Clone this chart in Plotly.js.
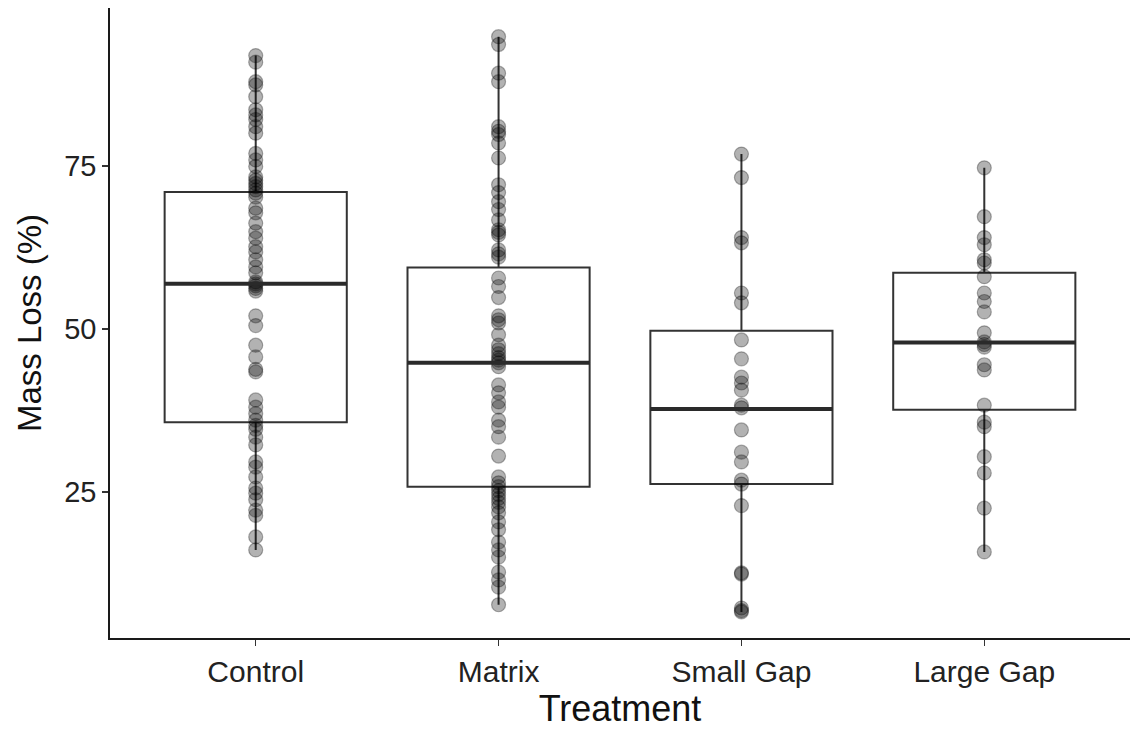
<!DOCTYPE html>
<html>
<head>
<meta charset="utf-8">
<script src="https://cdn.plot.ly/plotly-3.0.1.min.js"></script>
<style>html,body{margin:0;padding:0;background:#fff;}#chart{width:1136px;height:740px;}</style>
</head>
<body>
<div id="chart"></div>
<script>
const categories = ["Control", "Matrix", "Small Gap", "Large Gap"];

// box statistics
const q1 = [35.7, 25.8, 26.2, 37.6];
const median = [56.9, 44.8, 37.7, 47.9];
const q3 = [71.0, 59.4, 49.7, 58.6];
const lowerWhisker = [16.1, 7.7, 6.6, 15.8];
const upperWhisker = [91.9, 94.8, 76.8, 74.7];

// individual observations
const controlPts = [91.9, 90.9, 87.9, 87.4, 85.6, 83.6, 82.8, 82.1, 81.0, 80.0, 76.9, 75.9, 74.9,
  73.3, 72.8, 72.3, 71.8, 71.3, 70.8, 70.2, 68.5, 67.8, 66.2, 64.9, 63.9, 62.6, 61.8, 60.6, 59.5, 58.6,
  57.2, 56.9, 56.6, 56.2, 55.8, 52.0, 50.5, 47.5, 45.7, 43.8, 43.4,
  39.1, 38.0, 37.0, 36.0, 35.2, 34.6, 33.4, 32.2, 29.6, 28.8, 27.3, 25.6, 24.8, 23.8, 22.2, 21.4, 18.1, 16.1];
const matrixPts = [94.8, 93.6, 89.2, 87.9, 81.0, 80.3, 79.8, 78.5, 76.2, 72.1, 70.9, 69.5, 68.3, 66.7,
  65.2, 64.8, 64.4, 62.1, 61.5, 61.0, 57.8, 56.5, 54.8, 52.0, 51.4, 50.9, 49.1, 47.5, 46.8, 46.2, 45.6,
  45.2, 44.8, 44.2, 41.4, 40.2, 38.8, 38.0, 36.0, 35.0, 33.4, 30.5, 27.3, 26.4, 25.8, 25.2, 24.6, 24.0,
  23.4, 22.7, 21.8, 20.4, 19.2, 17.3, 16.1, 15.0, 12.7, 11.5, 10.4, 7.7];
const smallGapPts = [76.8, 73.2, 64.0, 63.2, 55.5, 54.0, 48.3, 45.4, 42.6, 41.7, 40.6, 38.3, 37.9,
  34.5, 31.1, 29.6, 26.8, 26.2, 22.9, 12.6, 12.4, 7.2, 6.8, 6.6];
const largeGapPts = [74.7, 67.2, 64.0, 62.9, 60.6, 60.1, 58.0, 55.5, 54.2, 52.6, 49.4, 48.0, 47.6,
  47.2, 44.5, 43.7, 38.3, 35.7, 35.0, 30.4, 27.9, 22.5, 15.8];

const yTicks = [25, 50, 75];

const groups = [controlPts, matrixPts, smallGapPts, largeGapPts];
const px = [], py = [];
groups.forEach((g, i) => g.forEach(v => { px.push(categories[i]); py.push(v); }));

const boxWidth = 0.75;
const boxTrace = {
  type: "box",
  x: categories,
  q1: q1, median: median, q3: q3,
  lowerfence: lowerWhisker, upperfence: upperWhisker,
  boxpoints: false,
  width: boxWidth,
  whiskerwidth: 0,
  fillcolor: "#ffffff",
  line: { color: "#333333", width: 2 },
  hoverinfo: "skip",
  showlegend: false
};

const pointTrace = {
  type: "scatter",
  mode: "markers",
  x: px, y: py,
  marker: { size: 14, color: "rgba(0,0,0,0.3)", line: { color: "rgba(0,0,0,0.3)", width: 1.2 } },
  hoverinfo: "y",
  showlegend: false
};

const medianShapes = median.map((m, i) => ({
  type: "line", xref: "x", yref: "y",
  x0: i - boxWidth / 2, x1: i + boxWidth / 2, y0: m, y1: m,
  line: { color: "#2a2a2a", width: 4 }, layer: "above"
}));

const font = "Liberation Sans, Arial, Helvetica, sans-serif";
const layout = {
  width: 1136, height: 740,
  margin: { l: 110, r: 6, t: 8, b: 102 },
  paper_bgcolor: "#ffffff", plot_bgcolor: "#ffffff",
  font: { family: font, color: "#222222" },
  showlegend: false,
  xaxis: {
    type: "category",
    categoryarray: categories,
    range: [-0.6, 3.6],
    showgrid: false, zeroline: false,
    showline: true, linecolor: "#1a1a1a", linewidth: 1.8,
    ticks: "outside", ticklen: 6, tickcolor: "#333333", tickwidth: 1.5,
    tickfont: { family: font, size: 30, color: "#222222" },
    title: { text: "Treatment", font: { family: font, size: 36, color: "#111111" }, standoff: 8 }
  },
  yaxis: {
    range: [2.6, 99.2],
    tickvals: yTicks,
    showgrid: false, zeroline: false,
    showline: true, linecolor: "#1a1a1a", linewidth: 1.8,
    ticks: "outside", ticklen: 6, tickcolor: "#333333", tickwidth: 1.5,
    tickfont: { family: font, size: 29, color: "#222222" },
    title: { text: "Mass Loss (%)", font: { family: font, size: 33, color: "#111111" }, standoff: 12 }
  },
  shapes: medianShapes
};

Plotly.newPlot("chart", [boxTrace, pointTrace], layout, { displayModeBar: false, staticPlot: true });
</script>
</body>
</html>
